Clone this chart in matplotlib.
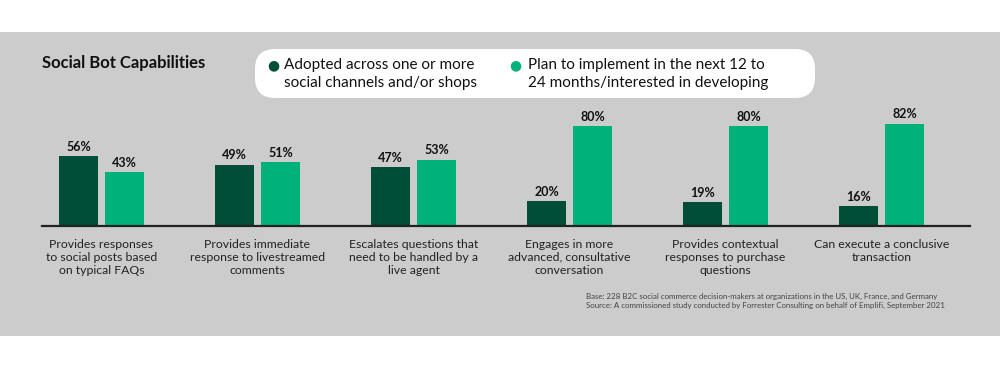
import matplotlib
matplotlib.use("Agg")
import matplotlib.pyplot as plt
from matplotlib.patches import FancyBboxPatch, Rectangle
import numpy as np

categories = [
    "Provides responses\nto social posts based\non typical FAQs",
    "Provides immediate\nresponse to livestreamed\ncomments",
    "Escalates questions that\nneed to be handled by a\nlive agent",
    "Engages in more\nadvanced, consultative\nconversation",
    "Provides contextual\nresponses to purchase\nquestions",
    "Can execute a conclusive\ntransaction",
]
adopted = [56, 49, 47, 20, 19, 16]
planned = [43, 51, 53, 80, 80, 82]
series_names = [
    "Adopted across one or more\nsocial channels and/or shops",
    "Plan to implement in the next 12 to\n24 months/interested in developing",
]
title = "Social Bot Capabilities"
footnote = ("Base: 228 B2C social commerce decision-makers at organizations in the US, UK, France, and Germany\n"
            "Source: A commissioned study conducted by Forrester Consulting on behalf of Emplifi, September 2021")

DARK = "#004D38"
LIGHT = "#00B27A"
BG = "#CCCCCC"
FONT = ["Lato", "DejaVu Sans"]

W, H = 1000, 368
fig = plt.figure(figsize=(W / 100, H / 100), dpi=100)
fig.patch.set_facecolor("white")

def fx(px):
    return px / W

def fy(py):
    return (H - py) / H

# gray panel
fig.patches.append(Rectangle((0, fy(336)), 1, fy(32) - fy(336), transform=fig.transFigure,
                             facecolor=BG, edgecolor="none", zorder=-2))

ax = fig.add_axes([fx(42), fy(226), fx(970) - fx(42), fy(101) - fy(226)])
ax.set_facecolor("none")
ax.set_zorder(1)
x = np.arange(len(categories))
bw = 0.25
off = 0.147
ax.bar(x - off, adopted, width=bw, color=DARK, zorder=2)
ax.bar(x + off, planned, width=bw, color=LIGHT, zorder=2)
ax.set_xlim(-0.381, 5.567)
ax.set_ylim(0, 100)
for xi, a, p in zip(x, adopted, planned):
    ax.annotate(f"{a}%", (xi - off, a), xytext=(0, 2.5), textcoords="offset points",
                ha="center", va="bottom", fontsize=9, fontweight="bold", family=FONT, color="#111111")
    ax.annotate(f"{p}%", (xi + off, p), xytext=(0, 2.5), textcoords="offset points",
                ha="center", va="bottom", fontsize=9, fontweight="bold", family=FONT, color="#111111")
for s in ["top", "right", "left"]:
    ax.spines[s].set_visible(False)
ax.spines["bottom"].set_linewidth(1.6)
ax.spines["bottom"].set_color("#222222")
ax.set_yticks([])
ax.set_xticks(x)
ax.set_xticklabels(categories, fontsize=8.8, family=FONT, color="#222222", linespacing=1.25)
ax.tick_params(axis="x", length=0, pad=9)

# title
fig.text(fx(42), fy(63), title, fontsize=12, fontweight="bold", family=FONT,
         color="#111111", va="center", ha="left")

# legend box
box = FancyBboxPatch((fx(255), fy(98)), fx(815) - fx(255), fy(49) - fy(98),
                     boxstyle="round,pad=0,rounding_size=0.02", transform=fig.transFigure,
                     facecolor="white", edgecolor="none", mutation_aspect=W / H, zorder=-1)
fig.patches.append(box)
for cx, tx, col, name in [(273, 284, DARK, series_names[0]), (515, 528, LIGHT, series_names[1])]:
    fig.text(fx(cx), fy(65), "\u25CF", fontsize=10, color=col, ha="center", va="center", family=["DejaVu Sans"])
    fig.text(fx(tx), fy(74), name, fontsize=11, family=FONT, color="#111111",
             ha="left", va="center", linespacing=1.3)

fig.text(fx(586), fy(301), footnote, fontsize=5.7, family=FONT, color="#444444",
         ha="left", va="center", linespacing=1.35)

fig.savefig("out.png", dpi=100, facecolor=fig.get_facecolor())
